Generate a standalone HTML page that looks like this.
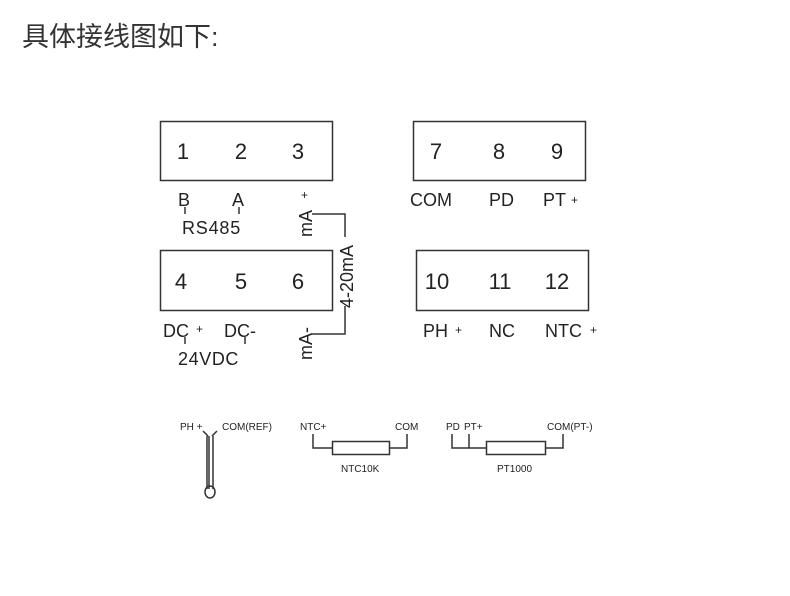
<!DOCTYPE html>
<html><head><meta charset="utf-8"><style>
html,body{margin:0;padding:0;background:#fff;width:790px;height:596px;overflow:hidden}
svg{display:block}
text{font-family:"Liberation Sans",Arial,sans-serif;fill:#222}
</style></head><body>
<svg width="790" height="596" viewBox="0 0 790 596" xmlns="http://www.w3.org/2000/svg">
<text x="22" y="46" style="font-family:'Liberation Sans','Noto Sans CJK SC',sans-serif;font-size:27px;fill:#333">具体接线图如下:</text>
<g fill="none" stroke="#333" stroke-width="1.5">
<rect x="160.5" y="121.5" width="172" height="59"/>
<rect x="413.5" y="121.5" width="172" height="59"/>
<rect x="160.5" y="250.5" width="172" height="60"/>
<rect x="416.5" y="250.5" width="172" height="60"/>
<path d="M185 207v7M239 207v7M185 337v7M245 337v7"/>
<path d="M312 214h33v23M345 306v28h-33"/>
<path d="M203 431l5 5M217 431l-5 5M207 436v53M213 436v53M209 436v53"/>
<ellipse cx="210" cy="492" rx="5" ry="6"/>
<path d="M313 434v14h19M389 448h18v-14"/>
<rect x="332.5" y="441.5" width="57" height="13"/>
<path d="M452 434v14h34M469 434v14M545 448h18v-14"/>
<rect x="486.5" y="441.5" width="59" height="13"/>
</g>
<g font-size="22" text-anchor="middle">
<text x="183" y="159">1</text><text x="241" y="159">2</text><text x="298" y="159">3</text>
<text x="436" y="159">7</text><text x="499" y="159">8</text><text x="557" y="159">9</text>
<text x="181" y="289">4</text><text x="241" y="289">5</text><text x="298" y="289">6</text>
<text x="437" y="289">10</text><text x="500" y="289">11</text><text x="557" y="289">12</text>
</g>
<g font-size="18">
<text x="178" y="206">B</text><text x="232" y="206">A</text>
<text x="182" y="234" letter-spacing="0.8">RS485</text>
<text x="163" y="337">DC</text><text x="224" y="337">DC-</text>
<text x="178" y="365" letter-spacing="0.6">24VDC</text>
<text x="410" y="206">COM</text><text x="489" y="206">PD</text><text x="543" y="206">PT</text>
<text x="423" y="337">PH</text><text x="489" y="337">NC</text><text x="545" y="337">NTC</text>
<text transform="translate(312 237) rotate(-90)">mA</text>
<text transform="translate(312 360) rotate(-90)">mA-</text>
<text transform="translate(353 308) rotate(-90)">4-20mA</text>
</g>
<g font-size="12">
<text x="196" y="333">+</text><text x="301" y="199">+</text>
<text x="571" y="204">+</text><text x="455" y="334">+</text><text x="590" y="334">+</text>
</g>
<g font-size="10">
<text x="180" y="430">PH +</text><text x="222" y="430">COM(REF)</text>
<text x="300" y="430">NTC+</text><text x="395" y="430">COM</text>
<text x="341" y="472">NTC10K</text>
<text x="446" y="430">PD</text><text x="464" y="430">PT+</text><text x="547" y="430">COM(PT-)</text>
<text x="497" y="472">PT1000</text>
</g>
</svg>
</body></html>
